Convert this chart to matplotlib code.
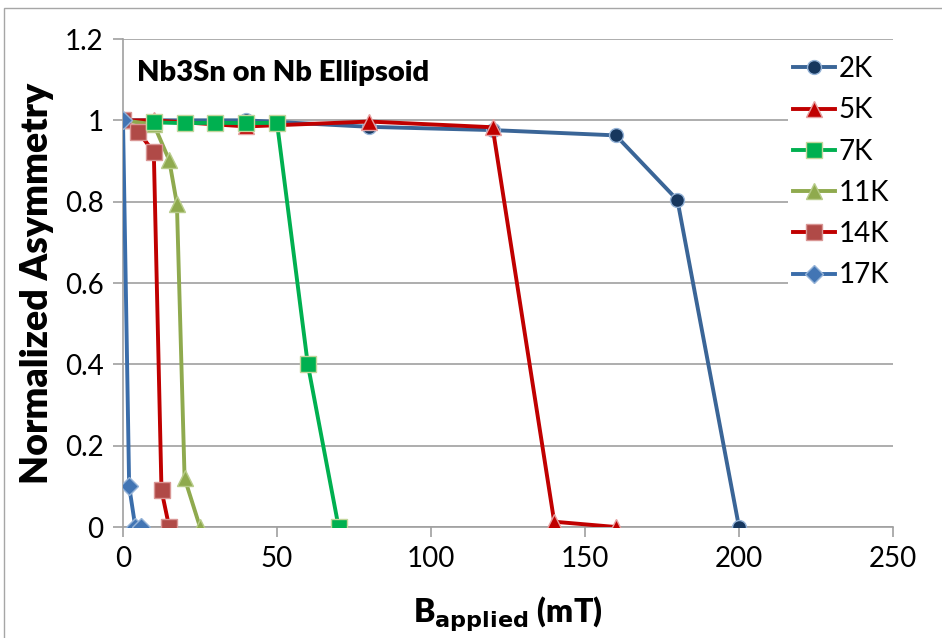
import numpy as np
import matplotlib.pyplot as plt
from matplotlib.patches import Rectangle

# dados
x_2K = [0, 40, 80, 120, 160, 180, 200]
y_2K = [1.0, 1.0, 0.984, 0.976, 0.963, 0.804, 0.0]

x_5K = [0, 10, 40, 80, 120, 140, 160]
y_5K = [1.0, 1.0, 0.985, 0.997, 0.983, 0.013, 0.0]

x_7K = [10, 20, 30, 40, 50, 60, 70]
y_7K = [0.995, 0.993, 0.994, 0.993, 0.994, 0.40, 0.0]

x_11K = [0, 10, 15, 17.5, 20, 25]
y_11K = [1.0, 0.99, 0.902, 0.795, 0.12, 0.0]

x_14K = [0, 5, 10, 12.5, 15]
y_14K = [1.0, 0.971, 0.922, 0.09, 0.0]

x_17K = [0, 2, 4, 6]
y_17K = [1.0, 0.1, 0.0, 0.0]

labels = ['2K', '5K', '7K', '11K', '14K', '17K']
xticks = [0, 50, 100, 150, 200, 250]
yticks = [0, 0.2, 0.4, 0.6, 0.8, 1.0, 1.2]
ytick_labels = ['0', '0.2', '0.4', '0.6', '0.8', '1', '1.2']

plt.rcParams['font.family'] = ['Lato', 'DejaVu Sans']

fig = plt.figure(figsize=(9.42, 6.38), dpi=100)
ax = fig.add_axes([123/942, 111/638, 770/942, 488/638])

# moldura do gráfico
fig.patches.append(Rectangle((4/942, -0.05), 1.2, (630/638) + 0.05, transform=fig.transFigure,
                             fill=False, edgecolor='#A6A6A6', lw=1.0))

lw = 2.8
ax.plot(x_2K, y_2K, '-o', color='#3A6597', lw=lw, ms=10, mfc='#17375E', mec='#95B3D7', mew=1, label=labels[0], zorder=3)
ax.plot(x_5K, y_5K, '-^', color='#C00000', lw=lw, ms=12, mfc='#C00000', mec='#E6A0A0', mew=1, label=labels[1], zorder=3)
ax.plot(x_7K, y_7K, '-s', color='#00B050', lw=lw, ms=11, mfc='#00B050', mec='#C3D69B', mew=1, label=labels[2], zorder=4)
ax.plot(x_11K, y_11K, '-^', color='#8FAA4E', lw=lw, ms=12, mfc='#8FAA4E', mec='#B8CC8A', mew=1, label=labels[3], zorder=3)
ax.plot(x_14K, y_14K, '-s', color='#C00000', lw=lw, ms=11, mfc='#B04A47', mec='#D99694', mew=1, label=labels[4], zorder=3)
ax.plot(x_17K, y_17K, '-D', color='#3A6DAA', lw=lw, ms=9, mfc='#4275B4', mec='#95B3D7', mew=1, label=labels[5], zorder=3)

ax.set_xlim(0, 250)
ax.set_ylim(0, 1.2)
ax.set_xticks(xticks)
ax.set_yticks(yticks)
ax.set_yticklabels(ytick_labels)
ax.tick_params(labelsize=20, color='#A0A0A0', length=7, width=1.2, pad=7)
ax.yaxis.grid(True, color='#A0A0A0', lw=1.2)
ax.set_axisbelow(True)
for s in ['top', 'right']:
    ax.spines[s].set_visible(False)
for s in ['left', 'bottom']:
    ax.spines[s].set_color('#A0A0A0')
    ax.spines[s].set_linewidth(1.2)

ax.set_ylabel('Normalized Asymmetry', fontsize=27, fontweight='heavy', labelpad=8)
ax.set_xlabel(r'B$_{\mathbf{applied}}$ (mT)', fontsize=23, fontweight='heavy', labelpad=16)
ax.text(0.018, 0.93, 'Nb3Sn on Nb Ellipsoid', transform=ax.transAxes, fontsize=21,
        fontweight='heavy', va='center')

leg = ax.legend(loc='upper left', bbox_to_anchor=(0.845, 1.005), fontsize=20, frameon=True,
                framealpha=1, edgecolor='white', labelspacing=0.55, handlelength=1.5,
                handletextpad=0.15, borderpad=0.2, fancybox=False)
leg.get_frame().set_linewidth(0)

fig.savefig('out.png', dpi=100)
